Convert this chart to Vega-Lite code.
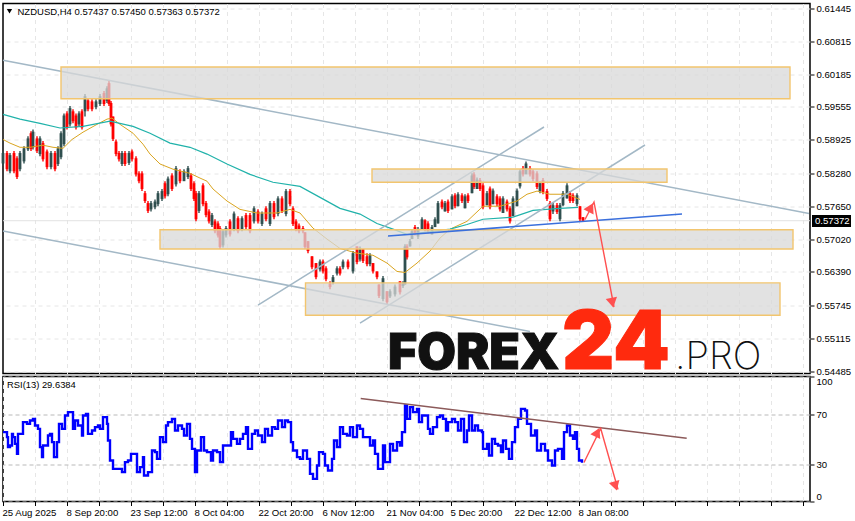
{
"$schema":"https://vega.github.io/schema/vega-lite/v6.json",
"background":"white",
"padding":{"left":-3,"top":2.5,"right":0,"bottom":0},
"spacing":3,
"bounds":"flush",
"config":{"view":{"stroke":"#000","strokeWidth":1.5},"font":"Liberation Sans","axis":{"title":null,"labelFont":"Liberation Sans","labelFontSize":9.6,"labelColor":"#000","domain":false,"tickColor":"#000","tickSize":4,"gridDash":[4,4],"labelOverlap":false,"labelBound":false}},
"datasets":{
"candles":[
{"t":0,"o":0.5847,"h":0.5871,"l":0.5842,"c":0.5867},{"t":4,"o":0.5867,"h":0.5871,"l":0.5832,"c":0.5836},{"t":7,"o":0.5832,"h":0.5867,"l":0.5828,"c":0.5863},{"t":11,"o":0.5867,"h":0.5871,"l":0.5828,"c":0.5832},{"t":14,"o":0.5857,"h":0.5861,"l":0.5817,"c":0.5821},{"t":17,"o":0.5836,"h":0.5871,"l":0.5832,"c":0.5867},{"t":21,"o":0.5851,"h":0.5880,"l":0.5847,"c":0.5876},{"t":25,"o":0.5874,"h":0.5899,"l":0.5871,"c":0.5895},{"t":28,"o":0.5905,"h":0.5909,"l":0.5871,"c":0.5875},{"t":30,"o":0.5878,"h":0.5912,"l":0.5874,"c":0.5908},{"t":34,"o":0.5895,"h":0.5899,"l":0.5867,"c":0.5871},{"t":37,"o":0.5865,"h":0.5899,"l":0.5861,"c":0.5895},{"t":40,"o":0.5886,"h":0.5890,"l":0.5851,"c":0.5855},{"t":44,"o":0.5870,"h":0.5874,"l":0.5836,"c":0.5840},{"t":48,"o":0.5840,"h":0.5871,"l":0.5836,"c":0.5867},{"t":52,"o":0.5867,"h":0.5871,"l":0.5832,"c":0.5836},{"t":55,"o":0.5846,"h":0.5880,"l":0.5842,"c":0.5876},{"t":58,"o":0.5859,"h":0.5909,"l":0.5855,"c":0.5905},{"t":61,"o":0.5884,"h":0.5943,"l":0.5880,"c":0.5939},{"t":64,"o":0.5943,"h":0.5947,"l":0.5912,"c":0.5916},{"t":67,"o":0.5922,"h":0.5957,"l":0.5918,"c":0.5953},{"t":70,"o":0.5947,"h":0.5951,"l":0.5924,"c":0.5928},{"t":73,"o":0.5939,"h":0.5943,"l":0.5912,"c":0.5916},{"t":76,"o":0.5922,"h":0.5947,"l":0.5918,"c":0.5943},{"t":79,"o":0.5947,"h":0.5951,"l":0.5912,"c":0.5916},{"t":82,"o":0.5947,"h":0.5980,"l":0.5937,"c":0.5976},{"t":85,"o":0.5968,"h":0.5972,"l":0.5947,"c":0.5951},{"t":89,"o":0.5966,"h":0.5970,"l":0.5947,"c":0.5951},{"t":93,"o":0.5955,"h":0.5970,"l":0.5951,"c":0.5966},{"t":97,"o":0.5961,"h":0.5980,"l":0.5957,"c":0.5976},{"t":101,"o":0.5982,"h":0.5986,"l":0.5957,"c":0.5961},{"t":104,"o":0.5967,"h":0.5995,"l":0.5963,"c":0.5991},{"t":106,"o":0.6001,"h":0.6005,"l":0.5957,"c":0.5961},{"t":108,"o":0.5963,"h":0.5967,"l":0.5918,"c":0.5922},{"t":110,"o":0.5937,"h":0.5937,"l":0.5890,"c":0.5894},{"t":113,"o":0.5889,"h":0.5893,"l":0.5861,"c":0.5865},{"t":116,"o":0.5867,"h":0.5871,"l":0.5851,"c":0.5855},{"t":119,"o":0.5846,"h":0.5871,"l":0.5842,"c":0.5867},{"t":122,"o":0.5867,"h":0.5871,"l":0.5842,"c":0.5846},{"t":126,"o":0.5848,"h":0.5871,"l":0.5844,"c":0.5867},{"t":129,"o":0.5870,"h":0.5874,"l":0.5851,"c":0.5855},{"t":133,"o":0.5857,"h":0.5861,"l":0.5822,"c":0.5826},{"t":136,"o":0.5828,"h":0.5832,"l":0.5809,"c":0.5813},{"t":139,"o":0.5828,"h":0.5832,"l":0.5794,"c":0.5798},{"t":142,"o":0.5790,"h":0.5794,"l":0.5771,"c":0.5775},{"t":145,"o":0.5771,"h":0.5775,"l":0.5752,"c":0.5756},{"t":148,"o":0.5759,"h":0.5775,"l":0.5755,"c":0.5771},{"t":152,"o":0.5763,"h":0.5778,"l":0.5759,"c":0.5774},{"t":155,"o":0.5769,"h":0.5794,"l":0.5765,"c":0.5790},{"t":159,"o":0.5779,"h":0.5798,"l":0.5775,"c":0.5794},{"t":162,"o":0.5809,"h":0.5813,"l":0.5780,"c":0.5784},{"t":165,"o":0.5788,"h":0.5822,"l":0.5784,"c":0.5818},{"t":169,"o":0.5824,"h":0.5828,"l":0.5794,"c":0.5798},{"t":173,"o":0.5807,"h":0.5842,"l":0.5803,"c":0.5838},{"t":177,"o":0.5832,"h":0.5836,"l":0.5809,"c":0.5813},{"t":181,"o":0.5813,"h":0.5836,"l":0.5817,"c":0.5832},{"t":185,"o":0.5821,"h":0.5842,"l":0.5817,"c":0.5838},{"t":188,"o":0.5824,"h":0.5828,"l":0.5794,"c":0.5798},{"t":191,"o":0.5809,"h":0.5813,"l":0.5775,"c":0.5779},{"t":193,"o":0.5790,"h":0.5794,"l":0.5736,"c":0.5740},{"t":196,"o":0.5756,"h":0.5794,"l":0.5752,"c":0.5790},{"t":200,"o":0.5805,"h":0.5809,"l":0.5765,"c":0.5769},{"t":203,"o":0.5771,"h":0.5775,"l":0.5744,"c":0.5748},{"t":206,"o":0.5755,"h":0.5759,"l":0.5732,"c":0.5736},{"t":209,"o":0.5729,"h":0.5752,"l":0.5725,"c":0.5748},{"t":212,"o":0.5736,"h":0.5740,"l":0.5713,"c":0.5717},{"t":215,"o":0.5732,"h":0.5736,"l":0.5705,"c":0.5709},{"t":217,"o":0.5723,"h":0.5727,"l":0.5683,"c":0.5687},{"t":220,"o":0.5690,"h":0.5721,"l":0.5686,"c":0.5717},{"t":223,"o":0.5709,"h":0.5727,"l":0.5705,"c":0.5723},{"t":227,"o":0.5736,"h":0.5740,"l":0.5707,"c":0.5711},{"t":231,"o":0.5721,"h":0.5755,"l":0.5717,"c":0.5751},{"t":235,"o":0.5742,"h":0.5746,"l":0.5713,"c":0.5717},{"t":239,"o":0.5721,"h":0.5746,"l":0.5717,"c":0.5742},{"t":243,"o":0.5748,"h":0.5752,"l":0.5721,"c":0.5725},{"t":247,"o":0.5748,"h":0.5752,"l":0.5713,"c":0.5717},{"t":251,"o":0.5736,"h":0.5765,"l":0.5732,"c":0.5761},{"t":255,"o":0.5755,"h":0.5759,"l":0.5732,"c":0.5736},{"t":259,"o":0.5731,"h":0.5755,"l":0.5727,"c":0.5751},{"t":263,"o":0.5761,"h":0.5765,"l":0.5736,"c":0.5740},{"t":267,"o":0.5731,"h":0.5775,"l":0.5727,"c":0.5771},{"t":271,"o":0.5771,"h":0.5775,"l":0.5740,"c":0.5744},{"t":275,"o":0.5750,"h":0.5784,"l":0.5746,"c":0.5780},{"t":279,"o":0.5780,"h":0.5784,"l":0.5752,"c":0.5756},{"t":283,"o":0.5750,"h":0.5798,"l":0.5746,"c":0.5794},{"t":287,"o":0.5794,"h":0.5798,"l":0.5765,"c":0.5769},{"t":290,"o":0.5761,"h":0.5765,"l":0.5727,"c":0.5731},{"t":293,"o":0.5736,"h":0.5740,"l":0.5717,"c":0.5721},{"t":296,"o":0.5728,"h":0.5732,"l":0.5713,"c":0.5717},{"t":300,"o":0.5723,"h":0.5727,"l":0.5713,"c":0.5717},{"t":302,"o":0.5715,"h":0.5715,"l":0.5683,"c":0.5687},{"t":305,"o":0.5698,"h":0.5698,"l":0.5675,"c":0.5679},{"t":309,"o":0.5669,"h":0.5669,"l":0.5644,"c":0.5648},{"t":313,"o":0.5656,"h":0.5656,"l":0.5625,"c":0.5629},{"t":317,"o":0.5644,"h":0.5663,"l":0.5640,"c":0.5659},{"t":320,"o":0.5659,"h":0.5663,"l":0.5636,"c":0.5640},{"t":323,"o":0.5646,"h":0.5650,"l":0.5621,"c":0.5625},{"t":327,"o":0.5617,"h":0.5621,"l":0.5606,"c":0.5610},{"t":330,"o":0.5619,"h":0.5633,"l":0.5615,"c":0.5629},{"t":334,"o":0.5636,"h":0.5650,"l":0.5632,"c":0.5646},{"t":337,"o":0.5646,"h":0.5650,"l":0.5632,"c":0.5636},{"t":340,"o":0.5648,"h":0.5663,"l":0.5644,"c":0.5659},{"t":345,"o":0.5659,"h":0.5663,"l":0.5644,"c":0.5648},{"t":350,"o":0.5640,"h":0.5679,"l":0.5636,"c":0.5675},{"t":354,"o":0.5688,"h":0.5688,"l":0.5654,"c":0.5658},{"t":357,"o":0.5663,"h":0.5688,"l":0.5659,"c":0.5684},{"t":360,"o":0.5683,"h":0.5683,"l":0.5656,"c":0.5660},{"t":364,"o":0.5669,"h":0.5675,"l":0.5650,"c":0.5654},{"t":367,"o":0.5654,"h":0.5675,"l":0.5650,"c":0.5671},{"t":370,"o":0.5656,"h":0.5656,"l":0.5636,"c":0.5640},{"t":374,"o":0.5640,"h":0.5640,"l":0.5625,"c":0.5629},{"t":376,"o":0.5615,"h":0.5615,"l":0.5589,"c":0.5593},{"t":380,"o":0.5587,"h":0.5631,"l":0.5583,"c":0.5627},{"t":384,"o":0.5602,"h":0.5602,"l":0.5577,"c":0.5581},{"t":387,"o":0.5592,"h":0.5606,"l":0.5589,"c":0.5602},{"t":392,"o":0.5596,"h":0.5615,"l":0.5592,"c":0.5611},{"t":397,"o":0.5621,"h":0.5621,"l":0.5596,"c":0.5600},{"t":400,"o":0.5612,"h":0.5621,"l":0.5608,"c":0.5617},{"t":402,"o":0.5615,"h":0.5692,"l":0.5615,"c":0.5688},{"t":404,"o":0.5688,"h":0.5692,"l":0.5663,"c":0.5667},{"t":407,"o":0.5688,"h":0.5702,"l":0.5688,"c":0.5698},{"t":409,"o":0.5702,"h":0.5721,"l":0.5702,"c":0.5717},{"t":412,"o":0.5725,"h":0.5729,"l":0.5709,"c":0.5713},{"t":415,"o":0.5707,"h":0.5725,"l":0.5702,"c":0.5721},{"t":419,"o":0.5721,"h":0.5744,"l":0.5721,"c":0.5740},{"t":422,"o":0.5738,"h":0.5740,"l":0.5717,"c":0.5721},{"t":425,"o":0.5732,"h":0.5736,"l":0.5713,"c":0.5717},{"t":429,"o":0.5711,"h":0.5729,"l":0.5711,"c":0.5725},{"t":432,"o":0.5725,"h":0.5744,"l":0.5725,"c":0.5740},{"t":435,"o":0.5732,"h":0.5775,"l":0.5732,"c":0.5771},{"t":439,"o":0.5774,"h":0.5778,"l":0.5759,"c":0.5763},{"t":442,"o":0.5755,"h":0.5775,"l":0.5755,"c":0.5771},{"t":445,"o":0.5774,"h":0.5778,"l":0.5752,"c":0.5756},{"t":449,"o":0.5759,"h":0.5788,"l":0.5759,"c":0.5784},{"t":452,"o":0.5786,"h":0.5790,"l":0.5761,"c":0.5765},{"t":455,"o":0.5765,"h":0.5792,"l":0.5765,"c":0.5788},{"t":459,"o":0.5786,"h":0.5790,"l":0.5771,"c":0.5775},{"t":462,"o":0.5761,"h":0.5788,"l":0.5761,"c":0.5784},{"t":465,"o":0.5786,"h":0.5790,"l":0.5771,"c":0.5775},{"t":469,"o":0.5790,"h":0.5828,"l":0.5790,"c":0.5824},{"t":471,"o":0.5826,"h":0.5830,"l":0.5798,"c":0.5802},{"t":474,"o":0.5798,"h":0.5820,"l":0.5798,"c":0.5816},{"t":477,"o":0.5815,"h":0.5819,"l":0.5794,"c":0.5798},{"t":480,"o":0.5805,"h":0.5809,"l":0.5759,"c":0.5763},{"t":484,"o":0.5767,"h":0.5794,"l":0.5767,"c":0.5790},{"t":487,"o":0.5799,"h":0.5803,"l":0.5759,"c":0.5763},{"t":490,"o":0.5769,"h":0.5799,"l":0.5769,"c":0.5795},{"t":494,"o":0.5784,"h":0.5788,"l":0.5765,"c":0.5769},{"t":497,"o":0.5780,"h":0.5784,"l":0.5755,"c":0.5759},{"t":500,"o":0.5752,"h":0.5784,"l":0.5752,"c":0.5780},{"t":504,"o":0.5774,"h":0.5778,"l":0.5755,"c":0.5759},{"t":507,"o":0.5761,"h":0.5765,"l":0.5732,"c":0.5736},{"t":510,"o":0.5746,"h":0.5784,"l":0.5746,"c":0.5780},{"t":514,"o":0.5765,"h":0.5799,"l":0.5765,"c":0.5795},{"t":517,"o":0.5803,"h":0.5836,"l":0.5799,"c":0.5832},{"t":520,"o":0.5838,"h":0.5842,"l":0.5822,"c":0.5826},{"t":523,"o":0.5826,"h":0.5851,"l":0.5828,"c":0.5847},{"t":527,"o":0.5838,"h":0.5842,"l":0.5822,"c":0.5826},{"t":530,"o":0.5832,"h":0.5836,"l":0.5813,"c":0.5817},{"t":534,"o":0.5828,"h":0.5832,"l":0.5798,"c":0.5802},{"t":537,"o":0.5794,"h":0.5813,"l":0.5790,"c":0.5809},{"t":540,"o":0.5815,"h":0.5819,"l":0.5788,"c":0.5792},{"t":544,"o":0.5794,"h":0.5798,"l":0.5775,"c":0.5779},{"t":547,"o":0.5771,"h":0.5775,"l":0.5736,"c":0.5740},{"t":550,"o":0.5755,"h":0.5771,"l":0.5750,"c":0.5767},{"t":554,"o":0.5767,"h":0.5771,"l":0.5750,"c":0.5754},{"t":557,"o":0.5740,"h":0.5771,"l":0.5736,"c":0.5767},{"t":560,"o":0.5767,"h":0.5794,"l":0.5765,"c":0.5790},{"t":564,"o":0.5780,"h":0.5809,"l":0.5780,"c":0.5805},{"t":567,"o":0.5790,"h":0.5794,"l":0.5771,"c":0.5775},{"t":570,"o":0.5786,"h":0.5790,"l":0.5771,"c":0.5775},{"t":574,"o":0.5769,"h":0.5790,"l":0.5765,"c":0.5786},{"t":577,"o":0.5765,"h":0.5765,"l":0.5736,"c":0.5740},{"t":580,"o":0.5744,"h":0.5744,"l":0.57363,"c":0.57372}
],
"goldMA":[{"t":0,"p":0.5893},{"t":7,"p":0.5886},{"t":17,"p":0.5878},{"t":27,"p":0.5878},{"t":40,"p":0.5882},{"t":50,"p":0.5878},{"t":60,"p":0.5876},{"t":69,"p":0.5893},{"t":80,"p":0.5907},{"t":94,"p":0.5922},{"t":104,"p":0.5932},{"t":109,"p":0.5934},{"t":117,"p":0.5922},{"t":130,"p":0.5905},{"t":140,"p":0.5884},{"t":147,"p":0.5865},{"t":157,"p":0.5846},{"t":170,"p":0.5836},{"t":187,"p":0.5828},{"t":197,"p":0.5819},{"t":204,"p":0.5813},{"t":210,"p":0.5798},{"t":224,"p":0.5775},{"t":237,"p":0.5759},{"t":254,"p":0.5752},{"t":274,"p":0.5752},{"t":287,"p":0.5759},{"t":297,"p":0.5752},{"t":310,"p":0.5723},{"t":324,"p":0.5702},{"t":337,"p":0.5684},{"t":354,"p":0.5675},{"t":370,"p":0.5671},{"t":384,"p":0.5656},{"t":394,"p":0.564},{"t":402,"p":0.5638},{"t":414,"p":0.5656},{"t":427,"p":0.5679},{"t":437,"p":0.5704},{"t":447,"p":0.5721},{"t":464,"p":0.5736},{"t":480,"p":0.5765},{"t":497,"p":0.5765},{"t":514,"p":0.5775},{"t":524,"p":0.5788},{"t":534,"p":0.5794},{"t":547,"p":0.5788},{"t":564,"p":0.5788},{"t":577,"p":0.5778}],
"tealMA":[{"t":0,"p":0.5941},{"t":17,"p":0.5932},{"t":37,"p":0.5924},{"t":57,"p":0.5915},{"t":80,"p":0.5918},{"t":107,"p":0.5928},{"t":130,"p":0.5918},{"t":147,"p":0.5905},{"t":167,"p":0.5886},{"t":187,"p":0.5878},{"t":204,"p":0.5865},{"t":224,"p":0.5846},{"t":247,"p":0.5826},{"t":270,"p":0.5811},{"t":297,"p":0.5803},{"t":317,"p":0.5782},{"t":337,"p":0.5761},{"t":357,"p":0.575},{"t":374,"p":0.5732},{"t":390,"p":0.5721},{"t":404,"p":0.5711},{"t":430,"p":0.5717},{"t":447,"p":0.5721},{"t":464,"p":0.573},{"t":480,"p":0.574},{"t":510,"p":0.5744},{"t":530,"p":0.5757},{"t":557,"p":0.5761},{"t":575,"p":0.5763}],
"trendlines":[{"name":"a","t":0,"p":0.60448},{"name":"a","t":806,"p":0.57511},{"name":"b","t":0,"p":0.57175},{"name":"b","t":527,"p":0.55248},{"name":"c","t":255,"p":0.55756},{"name":"c","t":541,"p":0.59169},{"name":"d","t":357,"p":0.55411},{"name":"d","t":642,"p":0.58824}],
"zones":[{"t":58,"t2":787,"p":0.6032,"p2":0.5971},{"t":369,"t2":664,"p":0.58364,"p2":0.5811},{"t":157,"t2":790,"p":0.572,"p2":0.5683},{"t":302.5,"t2":777,"p":0.5618,"p2":0.5556}],
"rsi":[{"t":0,"v":55.5},{"t":2,"v":55.5},{"t":4,"v":51.5},{"t":5,"v":43.5},{"t":7,"v":44.8},{"t":9,"v":54.1},{"t":10,"v":51.5},{"t":12,"v":46.1},{"t":14,"v":38.1},{"t":15,"v":54.1},{"t":19,"v":54.1},{"t":20,"v":63.5},{"t":24,"v":62.1},{"t":27,"v":64.8},{"t":30,"v":66.1},{"t":32,"v":60.8},{"t":35,"v":58.1},{"t":37,"v":43.5},{"t":39,"v":35.5},{"t":40,"v":44.8},{"t":44,"v":44.8},{"t":45,"v":52.8},{"t":47,"v":54.1},{"t":49,"v":47.5},{"t":51,"v":35.5},{"t":54,"v":47.5},{"t":56,"v":62.1},{"t":59,"v":58.1},{"t":62,"v":68.8},{"t":65,"v":71.5},{"t":68,"v":71.5},{"t":70,"v":58.1},{"t":72,"v":64.8},{"t":75,"v":60.8},{"t":79,"v":52.8},{"t":80,"v":68.8},{"t":83,"v":70.1},{"t":85,"v":54.1},{"t":89,"v":56.8},{"t":92,"v":59.5},{"t":95,"v":60.8},{"t":97,"v":58.1},{"t":100,"v":67.5},{"t":104,"v":62.1},{"t":105,"v":48.8},{"t":107,"v":32.8},{"t":110,"v":26.1},{"t":114,"v":26.1},{"t":119,"v":23.5},{"t":122,"v":31.5},{"t":125,"v":32.8},{"t":128,"v":38.1},{"t":132,"v":38.1},{"t":134,"v":23.5},{"t":137,"v":27.5},{"t":140,"v":35.5},{"t":141,"v":20.8},{"t":145,"v":23.5},{"t":149,"v":40.8},{"t":152,"v":39.5},{"t":154,"v":34.1},{"t":157,"v":51.5},{"t":160,"v":47.5},{"t":163,"v":60.8},{"t":165,"v":63.5},{"t":169,"v":66.1},{"t":172,"v":56.8},{"t":175,"v":60.8},{"t":179,"v":58.1},{"t":181,"v":52.8},{"t":184,"v":62.1},{"t":187,"v":50.1},{"t":189,"v":42.1},{"t":192,"v":23.5},{"t":194,"v":40.8},{"t":198,"v":51.5},{"t":201,"v":40.8},{"t":204,"v":39.5},{"t":208,"v":32.8},{"t":210,"v":40.8},{"t":214,"v":39.5},{"t":217,"v":31.5},{"t":220,"v":44.8},{"t":224,"v":44.8},{"t":228,"v":55.5},{"t":230,"v":50.1},{"t":234,"v":46.1},{"t":237,"v":50.1},{"t":240,"v":54.1},{"t":243,"v":59.5},{"t":245,"v":42.1},{"t":249,"v":54.1},{"t":252,"v":56.8},{"t":255,"v":52.8},{"t":259,"v":47.5},{"t":262,"v":58.1},{"t":265,"v":52.8},{"t":269,"v":59.5},{"t":272,"v":58.1},{"t":275,"v":64.8},{"t":279,"v":59.5},{"t":282,"v":64.8},{"t":285,"v":63.5},{"t":288,"v":47.5},{"t":290,"v":40.8},{"t":294,"v":35.5},{"t":297,"v":34.1},{"t":300,"v":40.8},{"t":304,"v":34.1},{"t":307,"v":22.1},{"t":310,"v":18.1},{"t":314,"v":28.8},{"t":316,"v":39.5},{"t":320,"v":38.1},{"t":322,"v":28.8},{"t":325,"v":24.8},{"t":329,"v":34.1},{"t":331,"v":48.8},{"t":334,"v":43.5},{"t":337,"v":59.5},{"t":340,"v":54.1},{"t":344,"v":52.8},{"t":347,"v":59.5},{"t":350,"v":51.5},{"t":354,"v":60.8},{"t":357,"v":58.1},{"t":360,"v":51.5},{"t":364,"v":51.5},{"t":367,"v":44.8},{"t":370,"v":48.8},{"t":372,"v":38.1},{"t":375,"v":26.1},{"t":380,"v":44.8},{"t":382,"v":31.5},{"t":387,"v":46.1},{"t":390,"v":40.8},{"t":394,"v":47.5},{"t":397,"v":44.8},{"t":399,"v":55.5},{"t":402,"v":76.8},{"t":404,"v":66.1},{"t":407,"v":75.5},{"t":410,"v":71.5},{"t":414,"v":74.1},{"t":416,"v":63.5},{"t":419,"v":68.8},{"t":422,"v":68.8},{"t":425,"v":58.1},{"t":427,"v":54.1},{"t":430,"v":59.5},{"t":434,"v":67.5},{"t":437,"v":68.8},{"t":440,"v":66.1},{"t":443,"v":56.8},{"t":445,"v":63.5},{"t":449,"v":66.1},{"t":452,"v":63.5},{"t":455,"v":56.8},{"t":458,"v":66.1},{"t":461,"v":47.5},{"t":464,"v":56.8},{"t":466,"v":68.8},{"t":469,"v":56.8},{"t":472,"v":60.8},{"t":475,"v":56.8},{"t":479,"v":55.5},{"t":480,"v":42.1},{"t":484,"v":46.1},{"t":486,"v":36.8},{"t":489,"v":50.1},{"t":492,"v":46.1},{"t":495,"v":44.8},{"t":498,"v":39.5},{"t":500,"v":48.8},{"t":503,"v":42.1},{"t":506,"v":34.1},{"t":509,"v":47.5},{"t":512,"v":59.5},{"t":515,"v":66.1},{"t":518,"v":74.1},{"t":522,"v":72.8},{"t":524,"v":62.1},{"t":528,"v":52.8},{"t":532,"v":56.8},{"t":534,"v":40.8},{"t":538,"v":46.1},{"t":542,"v":40.8},{"t":545,"v":32.8},{"t":549,"v":28.8},{"t":552,"v":40.8},{"t":555,"v":42.1},{"t":559,"v":34.1},{"t":561,"v":55.5},{"t":564,"v":60.8},{"t":567,"v":52.8},{"t":570,"v":50.1},{"t":572,"v":55.5},{"t":574,"v":42.1},{"t":576,"v":32.8},{"t":579,"v":31}]
},
"vconcat":[
{
"width":807,"height":370,
"encoding":{
"x":{"field":"t","type":"quantitative","scale":{"domain":[0,807],"nice":false,"zero":false},"axis":{"values":[32,64,96,128,160,192,224,256,288,320,352,384,416,448,480,512,544,576,608,640,672,704,736,768,800],"labels":false,"ticks":false,"grid":true,"gridColor":"#e6e6e6"}},
"y":{"field":"p","type":"quantitative","scale":{"domain":[0.54443,0.61537],"nice":false,"zero":false},"axis":{"orient":"right","values":[0.61445,0.60815,0.60185,0.59555,0.58925,0.5828,0.5765,0.5702,0.5639,0.55745,0.55115,0.54485],"format":".5f","grid":true,"gridColor":"#e6e6e6"}}
},
"layer":[
{"data":{"values":[{"p":0.57372}]},"mark":{"type":"rule","color":"#e2e2e2","strokeWidth":1},"encoding":{"x":{"value":0},"x2":{"value":807}}},
{"data":{"name":"candles"},"mark":{"type":"rule","strokeWidth":1.4},"encoding":{
"y":{"field":"l","type":"quantitative"},"y2":{"field":"h"},
"color":{"condition":{"test":"datum.c>=datum.o","value":"#2f4f4f"},"value":"#ff0000"}}},
{"data":{"name":"candles"},"mark":{"type":"rule","strokeWidth":2.8},"encoding":{
"y":{"field":"o","type":"quantitative"},"y2":{"field":"c"},
"color":{"condition":{"test":"datum.c>=datum.o","value":"#2f4f4f"},"value":"#ff0000"}}},
{"data":{"name":"goldMA"},"mark":{"type":"line","color":"#daa520","strokeWidth":1},"encoding":{}},
{"data":{"name":"tealMA"},"mark":{"type":"line","color":"#20b2aa","strokeWidth":1.2},"encoding":{}},
{"data":{"name":"trendlines"},"mark":{"type":"line","color":"#a3b8c6","strokeWidth":1.5},"encoding":{"detail":{"field":"name"}}},
{"data":{"name":"zones"},"mark":{"type":"rect","fill":"#d8d8d8","fillOpacity":0.75,"stroke":"#f2c56e","strokeWidth":1.4},"encoding":{"x2":{"field":"t2"},"y2":{"field":"p2"}}},
{"data":{"values":[{"t":385,"p":0.57079},{"t":679,"p":0.57501}]},"mark":{"type":"line","color":"#3a6fdc","strokeWidth":1.6},"encoding":{}},
{"data":{"values":[{"t":582,"p":0.57396},{"t":591,"p":0.57731},{"t":611,"p":0.55718}]},"mark":{"type":"line","color":"#ff5050","strokeWidth":1.4},"encoding":{}},
{"data":{"values":[{"t":587,"p":0.57597}]},"mark":{"type":"point","shape":"triangle","filled":true,"opacity":1,"color":"#ff5050","size":130,"angle":27},"encoding":{}},
{"data":{"values":[{"t":609,"p":0.5583}]},"mark":{"type":"point","shape":"triangle","filled":true,"opacity":1,"color":"#ff5050","size":130,"angle":169},"encoding":{}},
{"data":{"values":[{"t":385,"p":0.5452,"label":"FOREX"}]},"mark":{"type":"text","align":"left","baseline":"alphabetic","font":"Inter","fontWeight":900,"fontSize":50,"color":"#111111","stroke":"#111111","strokeWidth":1},"encoding":{"text":{"field":"label"}}},
{"data":{"values":[{"t":559,"p":0.5452,"label":"24"}]},"mark":{"type":"text","align":"left","baseline":"alphabetic","font":"Inter","fontWeight":900,"fontSize":81,"color":"#ff2a0e","stroke":"#ff2a0e","strokeWidth":1},"encoding":{"text":{"field":"label"}}},
{"data":{"values":[{"t":672,"p":0.5452,"label":".PRO"}]},"mark":{"type":"text","align":"left","baseline":"alphabetic","font":"Inter","fontWeight":200,"fontSize":38,"color":"#111111"},"encoding":{"text":{"field":"label"}}},
{"data":{"values":[{"t":6.5,"p":0.6139}]},"mark":{"type":"point","shape":"triangle-down","filled":true,"opacity":1,"color":"#000","size":28},"encoding":{}},
{"data":{"values":[{"t":14.5,"p":0.6138,"label":"NZDUSD,H4  0.57437 0.57450 0.57363 0.57372"}]},"mark":{"type":"text","align":"left","baseline":"middle","font":"Liberation Sans","fontSize":9.5,"color":"#000"},"encoding":{"text":{"field":"label"}}},
{"data":{"values":[{"t":809,"t2":848,"p":0.5748,"p2":0.5725}]},"mark":{"type":"rect","fill":"#000","clip":false},"encoding":{"x2":{"field":"t2"},"y2":{"field":"p2"}}},
{"data":{"values":[{"t":812,"p":0.5737,"label":"0.57372"}]},"mark":{"type":"text","align":"left","baseline":"middle","font":"Liberation Sans","fontSize":9.6,"color":"#fff","clip":false},"encoding":{"text":{"field":"label"}}}
]
},
{
"width":807,"height":125,
"encoding":{
"x":{"field":"t","type":"quantitative","scale":{"domain":[0,807],"nice":false,"zero":false},"axis":{"values":[0,32,64,96,128,160,192,224,256,288,320,352,384,416,448,480,512,544,576,608,640,672,704,736,768,800],"grid":true,"gridColor":"#e6e6e6","labelAlign":"left","labelPadding":2,"labelOffset":-1,"labelExpr":"{'0':'25 Aug 2025','64':'8 Sep 20:00','128':'23 Sep 12:00','192':'8 Oct 04:00','256':'22 Oct 20:00','320':'6 Nov 12:00','384':'21 Nov 04:00','448':'5 Dec 20:00','512':'22 Dec 12:00','576':'8 Jan 08:00'}[datum.value]||''"}},
"y":{"field":"v","type":"quantitative","scale":{"domain":[0,100],"nice":false},"axis":{"orient":"right","values":[100,70,30,0],"grid":true,"gridColor":"#b9b9b9","gridDash":[4,3],"labelFlush":true}}
},
"layer":[
{"data":{"name":"rsi"},"mark":{"type":"line","color":"#0000ff","strokeWidth":2.4,"interpolate":"step-after"},"encoding":{}},
{"data":{"values":[{"t":357.7,"v":82.4},{"t":683.7,"v":50.6}]},"mark":{"type":"line","color":"#8c5a5a","strokeWidth":1.6},"encoding":{}},
{"data":{"values":[{"t":581,"v":31.2},{"t":597.7,"v":58.4},{"t":615,"v":9.6}]},"mark":{"type":"line","color":"#ff5050","strokeWidth":1.4},"encoding":{}},
{"data":{"values":[{"t":593.7,"v":54.2}]},"mark":{"type":"point","shape":"triangle","filled":true,"opacity":1,"color":"#ff5050","size":120,"angle":26},"encoding":{}},
{"data":{"values":[{"t":612,"v":13.6}]},"mark":{"type":"point","shape":"triangle","filled":true,"opacity":1,"color":"#ff5050","size":120,"angle":164},"encoding":{}},
{"data":{"values":[{"t":4,"v":93,"label":"RSI(13) 29.6384"}]},"mark":{"type":"text","align":"left","baseline":"middle","font":"Liberation Sans","fontSize":9.4,"color":"#000"},"encoding":{"text":{"field":"label"}}}
]
}
]
}
